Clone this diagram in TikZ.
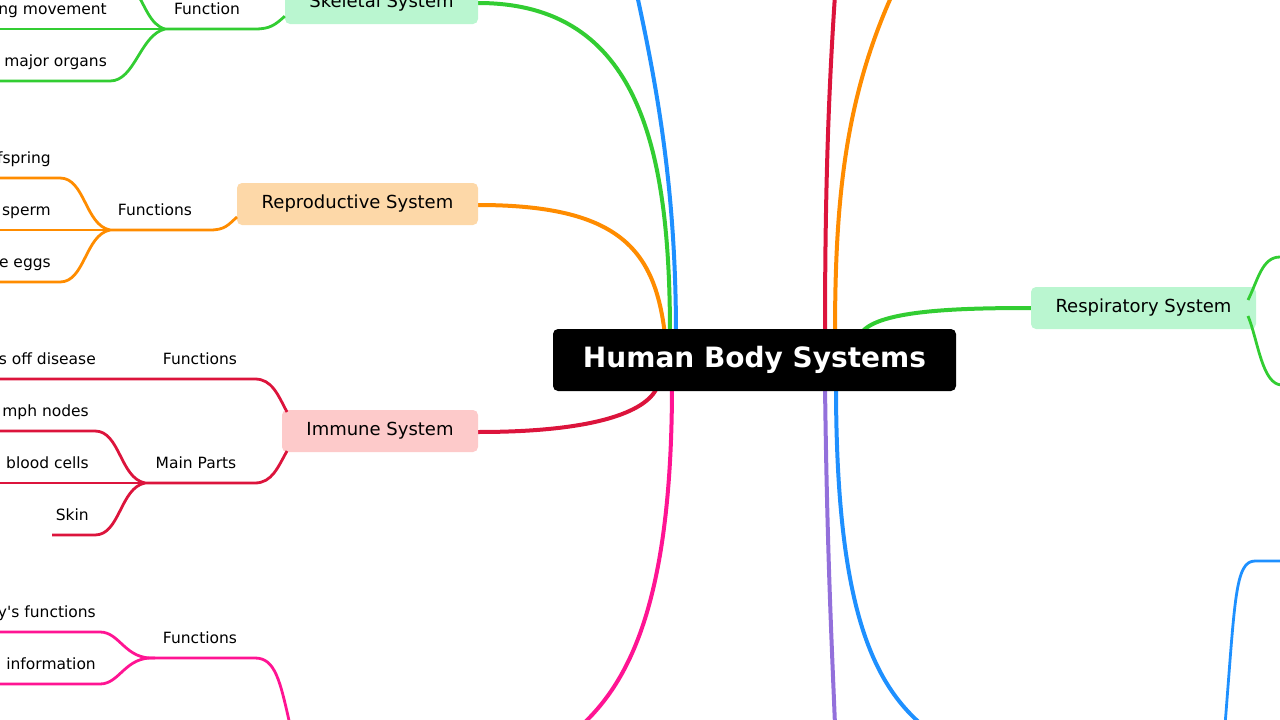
\documentclass[tikz,border=0pt]{standalone}
\usepackage{fontspec}
\setmainfont{DejaVu Sans}[Ligatures=TeXOff]
\begin{document}
\begin{tikzpicture}[x=1pt,y=-1pt,
  main/.style={line width=4pt},
  sub/.style={line width=2.8pt},
  sys/.style={rounded corners=5pt,minimum height=42pt,font=\fontsize{18}{20}\selectfont,text=black,inner sep=0pt},
  lab/.style={font=\fontsize{15.5}{18}\selectfont,text=black,inner sep=0pt}]
\definecolor{gr}{HTML}{32CD32}\definecolor{grf}{HTML}{BAF6D0}
\definecolor{or}{HTML}{FF8C00}\definecolor{orf}{HTML}{FDD8A8}
\definecolor{rd}{HTML}{DC143C}\definecolor{rdf}{HTML}{FDCACA}
\definecolor{pk}{HTML}{FF1493}\definecolor{bl}{HTML}{1E90FF}\definecolor{pu}{HTML}{9370DB}
\useasboundingbox (0,0) rectangle (1280,720);
% main connectors
\draw[main,bl] (637,-5) .. controls (660,100) and (676,200) .. (676,335);
\draw[main,rd] (835,-5) .. controls (828,100) and (825,200) .. (825,335);
\draw[main,or] (892,-5) .. controls (845,100) and (835,200) .. (835,335);
\draw[main,gr] (478,3) .. controls (640,3) and (670,150) .. (670,335);
\draw[main,or] (478,205) .. controls (620,205) and (655,250) .. (665,335);
\draw[main,rd] (478,432) .. controls (600,432) and (650,410) .. (658,385);
\draw[main,pk] (672,385) .. controls (672,600) and (630,680) .. (582,725);
\draw[main,bl] (836,385) .. controls (836,600) and (870,680) .. (922,725);
\draw[main,pu] (825,385) .. controls (827,550) and (832,650) .. (835,725);
\draw[main,gr] (862,332) .. controls (880,310) and (960,308) .. (1031,308);
% center
\node[fill=black,rounded corners=5pt,minimum width=403pt,minimum height=62pt,text=white,font=\bfseries\fontsize{28}{32}\selectfont] (c) at (754.5,360) {Human Body Systems};
% systems
\node[sys,fill=grf,minimum width=193pt] (sk) at (381.5,3) {Skeletal System};
\node[sys,fill=orf,minimum width=241pt] (rp) at (357.5,204) {Reproductive System};
\node[sys,fill=rdf,minimum width=196pt] (im) at (380,431) {Immune System};
\node[sys,fill=grf,minimum width=225pt] (rs) at (1143.5,308) {Respiratory System};
% skeletal
\draw[sub,gr] (sk.south west)++(0,-8) .. controls (275,25) and (270,29) .. (255,29) -- (165,29);
\draw[sub,gr] (0,29) -- (165,29);
\draw[sub,gr] (165,29) .. controls (150,25) and (145,5) .. (135,-10);
\draw[sub,gr] (165,29) .. controls (140,35) and (135,81) .. (110,81) -- (0,81);
\node[lab,anchor=base] at (207,14) {Function};
\node[lab,anchor=base east] at (107,14) {ng movement};
\node[lab,anchor=base east] at (107,66) {major organs};
% reproductive
\draw[sub,or] (237,217) .. controls (228,225) and (225,230) .. (210,230) -- (110,230);
\draw[sub,or] (0,230) -- (110,230);
\draw[sub,or] (110,230) .. controls (85,225) and (85,178) .. (60,178) -- (0,178);
\draw[sub,or] (110,230) .. controls (85,235) and (85,282) .. (60,282) -- (0,282);
\node[lab,anchor=base] at (155,215) {Functions};
\node[lab,anchor=base east] at (51,163) {fspring};
\node[lab,anchor=base east] at (51,215) {sperm};
\node[lab,anchor=base east] at (51,267) {e eggs};
% immune
\draw[sub,rd] (287,412) .. controls (278,395) and (272,379) .. (255,379) -- (0,379);
\draw[sub,rd] (287,451) .. controls (278,467) and (272,483) .. (255,483) -- (145,483);
\draw[sub,rd] (0,483) -- (145,483);
\draw[sub,rd] (145,483) .. controls (120,478) and (120,431) .. (95,431) -- (0,431);
\draw[sub,rd] (145,483) .. controls (120,488) and (120,535) .. (95,535) -- (52,535);
\node[lab,anchor=base] at (200,364) {Functions};
\node[lab,anchor=base] at (196,468) {Main Parts};
\node[lab,anchor=base east] at (96,364) {s off disease};
\node[lab,anchor=base east] at (89,416) {mph nodes};
\node[lab,anchor=base east] at (89,468) {blood cells};
\node[lab,anchor=base east] at (89,520) {Skin};
% nervous
\draw[sub,pk] (290,725) .. controls (280,680) and (275,658) .. (255,658) -- (155,658);
\draw[sub,pk] (155,658) .. controls (125,660) and (120,632) .. (100,632) -- (0,632);
\draw[sub,pk] (155,658) .. controls (125,656) and (120,684) .. (100,684) -- (0,684);
\node[lab,anchor=base] at (200,643) {Functions};
\node[lab,anchor=base east] at (96,617) {y's functions};
\node[lab,anchor=base east] at (96,669) {information};
% respiratory children
\draw[sub,gr] (1248,300) .. controls (1258,280) and (1262,257) .. (1280,257);
\draw[sub,gr] (1248,316) .. controls (1258,340) and (1262,385) .. (1282,385);
% blue bottom right
\draw[sub,bl] (1225,725) .. controls (1235,600) and (1235,561) .. (1255,561) -- (1282,561);
\end{tikzpicture}
\end{document}
